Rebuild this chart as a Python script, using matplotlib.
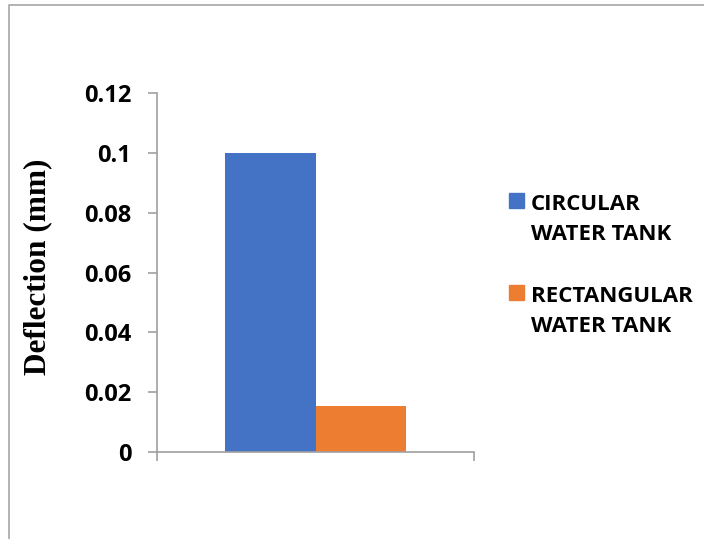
import matplotlib
matplotlib.use("Agg")
import matplotlib.pyplot as plt
from matplotlib.lines import Line2D
from matplotlib.patches import Rectangle

series = ["CIRCULAR\nWATER TANK", "RECTANGULAR\nWATER TANK"]
values = [0.1, 0.0154]
colors = ["#4472C4", "#ED7D31"]
yticks = [0, 0.02, 0.04, 0.06, 0.08, 0.1, 0.12]
ytick_labels = ["0", "0.02", "0.04", "0.06", "0.08", "0.1", "0.12"]

W, H = 704, 539
fig = plt.figure(figsize=(W / 100, H / 100), dpi=100)
ax = fig.add_axes([157 / W, 1 - 452 / H, (474 - 157) / W, (452 - 93) / H])

bw = 0.287
offsets = [-bw / 2, bw / 2]
for lab, v, c, o in zip(series, values, colors, offsets):
    ax.bar(o, v, width=bw, color=c, label=lab, zorder=2)

ax.set_xlim(-0.5, 0.5)
ax.set_ylim(0, 0.12)
ax.set_yticks(yticks)
ax.set_yticklabels(ytick_labels, fontfamily="Open Sans", fontweight="bold", fontsize=17)
ax.set_xticks([-0.5, 0.5])
ax.set_xticklabels([])
gray = "#a0a0a0"
for s in ["top", "right"]:
    ax.spines[s].set_visible(False)
for s in ["left", "bottom"]:
    ax.spines[s].set_color(gray)
    ax.spines[s].set_linewidth(1.2)
ax.tick_params(axis="y", length=6.5, width=1.2, color=gray, pad=12)
ax.tick_params(axis="x", length=6.5, width=1.2, color=gray)
ax.set_ylabel("Deflection (mm)", fontfamily="Liberation Serif", fontweight="bold",
              fontsize=22.5)
ax.yaxis.set_label_coords((52 - 157) / (474 - 157), 0.515)

# legend (manual, to keep square aligned with first text line)
for i, (lab, c) in enumerate(zip(series, colors)):
    top = 193 + i * 92
    fig.add_artist(Rectangle((509 / W, 1 - (top + 15) / H), 15 / W, 15 / H,
                             transform=fig.transFigure, color=c))
    for j, line in enumerate(lab.split("\n")):
        fig.text(531 / W, 1 - (top + 17 + j * 30) / H, line,
                 fontfamily="Open Sans", fontweight="bold", fontsize=16,
                 ha="left", va="baseline")

fig.add_artist(Line2D([9 / W, 9 / W, 1], [0, 1 - 5 / H, 1 - 5 / H],
                      transform=fig.transFigure, color="#a6a6a6", lw=1.2))

fig.savefig("out.png", dpi=100)
